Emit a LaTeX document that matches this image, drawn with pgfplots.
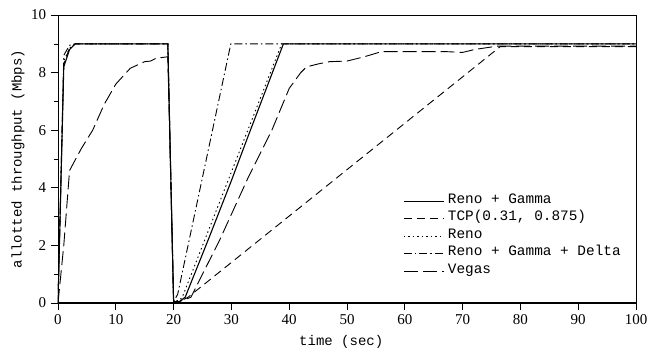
\documentclass[border=0pt]{standalone}
\usepackage{fontspec}
\setmainfont{Liberation Serif}
\setmonofont{Liberation Mono}
\usepackage{pgfplots}
\pgfplotsset{compat=1.18}
\begin{document}
\fontsize{14}{16}\selectfont
\begin{tikzpicture}
\useasboundingbox (-58pt,-46pt) rectangle (589pt,303pt);
\begin{axis}[
  scale only axis, width=578pt, height=288pt,
  xmin=0, xmax=100, ymin=0, ymax=10,
  xtick={0,10,...,100}, ytick={0,2,...,10},
  minor ytick={1,3,5,7,9},
  tick align=outside, major tick length=7pt, minor tick length=4pt,
  xtick pos=bottom, ytick pos=left,
  /pgf/number format/assume math mode=true,
  ticklabel style={font=\fontsize{15}{17}\selectfont},
  axis line style={line width=0.8pt},
  every tick/.style={line width=0.8pt, black},
  every minor tick/.style={line width=0.6pt, black},
  xlabel={\ttfamily time (sec)},
  ylabel={\ttfamily allotted throughput (Mbps)},
  every axis x label/.style={at={(rel axis cs:0.49,0)}, yshift=-42pt, anchor=base},
  every axis y label/.style={at={(rel axis cs:0,0.5)}, xshift=-40pt, rotate=90, anchor=center},
  legend style={at={(rel axis cs:0.597,0.385)}, anchor=north west, draw=none, fill=none,
    font=\ttfamily\fontsize{14.4}{17.5}\selectfont, row sep=0pt, inner sep=0pt,
    nodes={inner xsep=3.5pt, inner ysep=0pt, text height=11pt, text depth=6.5pt}},
  legend cell align=left,
  legend image code/.code={\draw[#1] (0pt,0pt) -- (40pt,0pt);},
  every axis plot/.append style={line width=0.9pt, black},
]
\addplot[solid, line width=1.1pt] coordinates {(0,0)(1,8.2)(2,8.8)(3,9.0)(19,9.0)(20,0.05)(21,0.05)(22,0.2)(26,2.2)(30,4.25)(33,5.85)(39,9.0)(100,9.0)};
\addlegendentry{Reno + Gamma}
\addplot[dash pattern=on 8pt off 5pt] coordinates {(0,0)(1,8.3)(2,8.85)(3,9.0)(19,9.0)(20,0.05)(21,0.05)(22.5,0.2)(76.5,8.9)(100,8.9)};
\addlegendentry{TCP(0.31, 0.875)}
\addplot[dash pattern=on 1.5pt off 3pt] coordinates {(0,0)(1,8.4)(2,8.85)(3,9.0)(19,9.0)(20,0.05)(21,0.1)(21.5,0.2)(38.7,9.0)(100,9.0)};
\addlegendentry{Reno}
\addplot[dash pattern=on 8pt off 3pt on 1.5pt off 3pt] coordinates {(0,0)(1,8.6)(2,8.95)(3,9.0)(19,9.0)(20,0.05)(20.7,0.3)(29.9,9.0)(100,9.0)};
\addlegendentry{Reno + Gamma + Delta}
\addplot[dash pattern=on 14pt off 5pt] coordinates {(0,0)(1,2.0)(2,4.6)(4,5.35)(6,6.0)(8,6.9)(10,7.6)(12.5,8.15)(15,8.38)(16,8.4)(17,8.5)(19,8.55)(20,0.05)(21,0.05)(23,0.2)(28,2.2)(33,4.4)(37,6.0)(40,7.45)(42,8.0)(43,8.2)(45,8.3)(47,8.38)(50,8.4)(53,8.55)(56,8.73)(67,8.73)(70,8.7)(72,8.8)(76,8.92)(100,8.92)};
\addlegendentry{Vegas}
\draw[line width=1.6pt] (rel axis cs:0,0) -- (rel axis cs:1,0);
\end{axis}
\end{tikzpicture}
\end{document}
